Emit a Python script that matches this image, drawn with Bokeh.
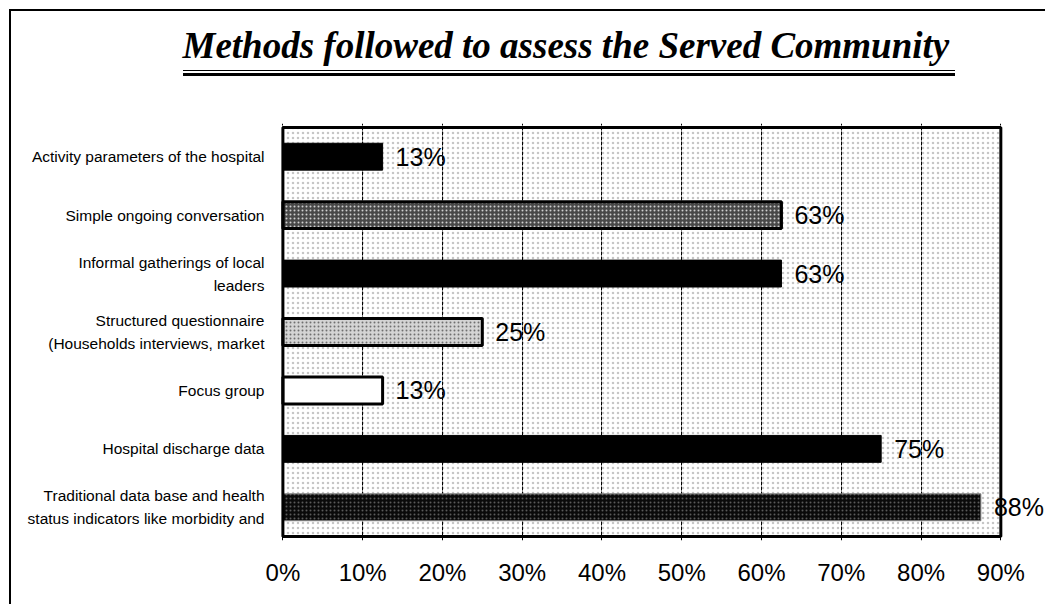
from bokeh.plotting import figure
from bokeh.models import (ColumnDataSource, FactorRange, Range1d, FixedTicker,
                          PrintfTickFormatter, LabelSet, BoxAnnotation, InlineStyleSheet)
from bokeh.core.properties import value
from bokeh.embed import file_html
from bokeh.resources import INLINE

# ---------------- data ----------------
categories = [
    "Activity parameters of the hospital",
    "Simple ongoing conversation",
    "Informal gatherings of local\nleaders",
    "Structured questionnaire\n(Households interviews, market",
    "Focus group",
    "Hospital discharge data",
    "Traditional data base and health\nstatus indicators like morbidity and",
]
values = [12.5, 62.5, 62.5, 25.0, 12.5, 75.0, 87.5]
value_labels = ["13%", "63%", "63%", "25%", "13%", "75%", "88%"]
x_ticks = [0, 10, 20, 30, 40, 50, 60, 70, 80, 90]
axis_max = 90
title_text = "Methods followed to assess the Served Community"

# ---------------- styles ----------------
bar_fill = ["#000000", "#484848", "#000000", "#d4d4d4", "#ffffff", "#000000", "#0a0a0a"]
bar_hatch = ["blank", "dot", "blank", "dot", "blank", "blank", "dot"]
bar_hatch_color = ["#000000", "#cfcfcf", "#000000", "#6f6f6f", "#000000", "#000000", "#5a5a5a"]
bar_line_width = [1, 3, 1, 3, 3, 1, 1]
bar_line_color = ["#000000", "#000000", "#000000", "#000000", "#000000", "#000000", "#888888"]

source = ColumnDataSource(dict(
    cat=categories, val=values, lab=value_labels,
    fill=bar_fill, hatch=bar_hatch, hcol=bar_hatch_color,
    lw=bar_line_width, lc=bar_line_color,
))

css = InlineStyleSheet(css="""
:host { position: relative; }
:host::before {
  content: ""; position: absolute; left: 183px; top: 70px; width: 772px; height: 2px;
  border-top: 1px solid black; border-bottom: 3px solid black; z-index: 10; pointer-events: none;
}
:host::after {
  content: ""; position: absolute; left: 9px; top: 9px; width: 1060px; height: 620px;
  border-left: 2px solid black; border-top: 2px solid black; z-index: 10; pointer-events: none;
}
""")

p = figure(
    width=1045, height=604,
    y_range=FactorRange(*reversed(categories), range_padding=0.068,
                        range_padding_units="absolute"),
    x_range=Range1d(-0.3, 95.6),
    output_backend="svg", toolbar_location=None,
    min_border_left=280, min_border_right=0,
    min_border_top=123, min_border_bottom=64,
    stylesheets=[css],
)
p.background_fill_color = "white"
p.border_fill_color = "white"
p.outline_line_color = None

# title (a trailing empty line lifts the text well above the plot box)
p.title.text = title_text + "\n"
p.title.text_font = "Liberation Serif"
p.title.text_font_size = "37px"
p.title.text_font_style = "bold italic"
p.title.text_color = "black"
p.title.align = "left"
p.title.offset = -98
p.title.standoff = 34

# dotted background texture inside the plot box
bg = BoxAnnotation(left=0, right=axis_max, bottom=0, top=len(categories),
                   fill_color=None, line_color=None, hatch_pattern="dot",
                   hatch_color="#8c8c8c", hatch_scale=5, hatch_weight=1,
                   hatch_alpha=0.5, level="image")
p.add_layout(bg)

p.hbar(y="cat", right="val", left=0, height=0.46, source=source,
       fill_color="fill", line_color="lc", line_width="lw",
       hatch_pattern="hatch", hatch_color="hcol", hatch_scale=4, hatch_weight=1)

# plot box border
box = BoxAnnotation(left=0, right=axis_max, bottom=0, top=len(categories),
                    fill_color=None, fill_alpha=0, line_color="black",
                    line_alpha=1, line_width=3)
p.add_layout(box)

labels = LabelSet(x="val", y="cat", text="lab", source=source,
                  x_offset=13, text_baseline="middle", text_align="left",
                  text_font=value("Liberation Sans"), text_font_size="25px",
                  text_color="black")
p.add_layout(labels)

# axes
p.xaxis.ticker = FixedTicker(ticks=x_ticks)
p.xaxis.formatter = PrintfTickFormatter(format="%d%%")
p.xaxis.axis_line_color = None
p.xaxis.major_tick_line_color = None
p.xaxis.minor_tick_line_color = None
p.xaxis.major_label_text_font = "Liberation Sans"
p.xaxis.major_label_text_font_size = "24px"
p.xaxis.major_label_text_color = "black"
p.xaxis.major_label_standoff = 12

p.yaxis.axis_line_color = None
p.yaxis.major_tick_line_color = None
p.yaxis.major_label_text_font = "Liberation Sans"
p.yaxis.major_label_text_font_size = "15.5px"
p.yaxis.major_label_text_color = "black"
p.yaxis.major_label_text_line_height = 1.35
p.yaxis.major_label_standoff = 10

p.xgrid.ticker = FixedTicker(ticks=x_ticks)
p.xgrid.grid_line_color = "black"
p.xgrid.grid_line_width = 1
p.xgrid.grid_line_dash = "4 1"
p.ygrid.grid_line_color = None

open("out.html", "w").write(file_html(p, INLINE))
